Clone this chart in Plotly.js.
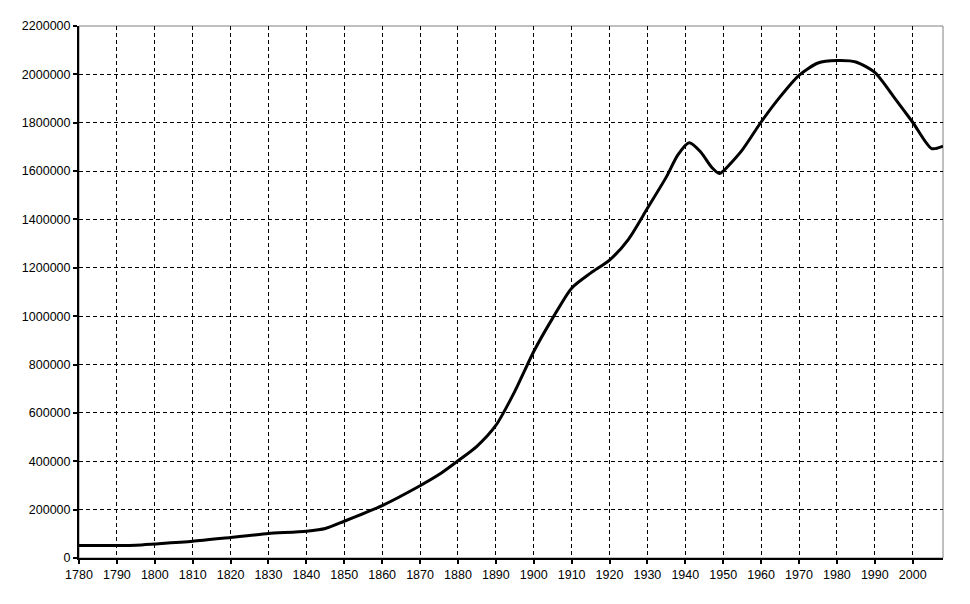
<!DOCTYPE html>
<html>
<head>
<meta charset="utf-8">
<script src="https://cdn.plot.ly/plotly-3.0.1.min.js"></script>
<style>html,body{margin:0;padding:0;background:#fff;}#chart{width:970px;height:604px;}</style>
</head>
<body>
<div id="chart"></div>
<script>
const years = [1780,1790,1795,1800,1810,1820,1825,1830,1840,1845,1850,1860,1870,1875,1880,1885,1890,1895,1900,1905,1910,1915,1920,1925,1930,1935,1938,1941,1944,1947,1949,1950,1955,1960,1965,1970,1975,1980,1985,1990,1995,2000,2005,2008];
const population = [52000,52000,53000,58000,69000,85000,93000,101000,111000,122000,152000,217000,299000,345000,402000,462000,548000,689000,854000,992000,1116000,1178000,1232000,1318000,1446000,1576000,1666000,1717000,1680000,1615000,1590000,1600000,1687000,1803000,1907000,1996000,2047000,2057000,2051000,2008000,1907000,1802000,1693000,1703000];

const font = {family: 'Liberation Sans, Arial, sans-serif', size: 12.5, color: '#000'};

Plotly.newPlot('chart', [{
  x: years,
  y: population,
  type: 'scatter',
  mode: 'lines',
  line: {color: '#000', width: 3, shape: 'spline', smoothing: 0.7},
  hoverinfo: 'skip'
}], {
  width: 970, height: 604,
  margin: {l: 79, r: 27, t: 26, b: 46},
  paper_bgcolor: '#fff', plot_bgcolor: '#fff',
  showlegend: false,
  font: font,
  xaxis: {
    range: [1780, 2008], tick0: 1780, dtick: 10,
    showgrid: true, gridcolor: '#000', gridwidth: 1, griddash: '4px,3px',
    showline: true, linecolor: '#000', linewidth: 2,
    ticks: 'outside', ticklen: 4, tickwidth: 2, tickcolor: '#000',
    zeroline: false, tickfont: font, fixedrange: true
  },
  yaxis: {
    range: [0, 2200000], tick0: 0, dtick: 200000,
    tickformat: 'd',
    showgrid: true, gridcolor: '#000', gridwidth: 1, griddash: '4px,3px',
    showline: true, linecolor: '#000', linewidth: 2,
    ticks: 'outside', ticklen: 4, tickwidth: 2, tickcolor: '#000',
    zeroline: false, tickfont: font, fixedrange: true
  },
  shapes: [{
    type: 'rect', xref: 'paper', yref: 'paper', x0: 0, x1: 1, y0: 0, y1: 1,
    line: {color: '#808080', width: 1}, layer: 'below'
  }]
}, {staticPlot: true, displayModeBar: false});
</script>
</body>
</html>
